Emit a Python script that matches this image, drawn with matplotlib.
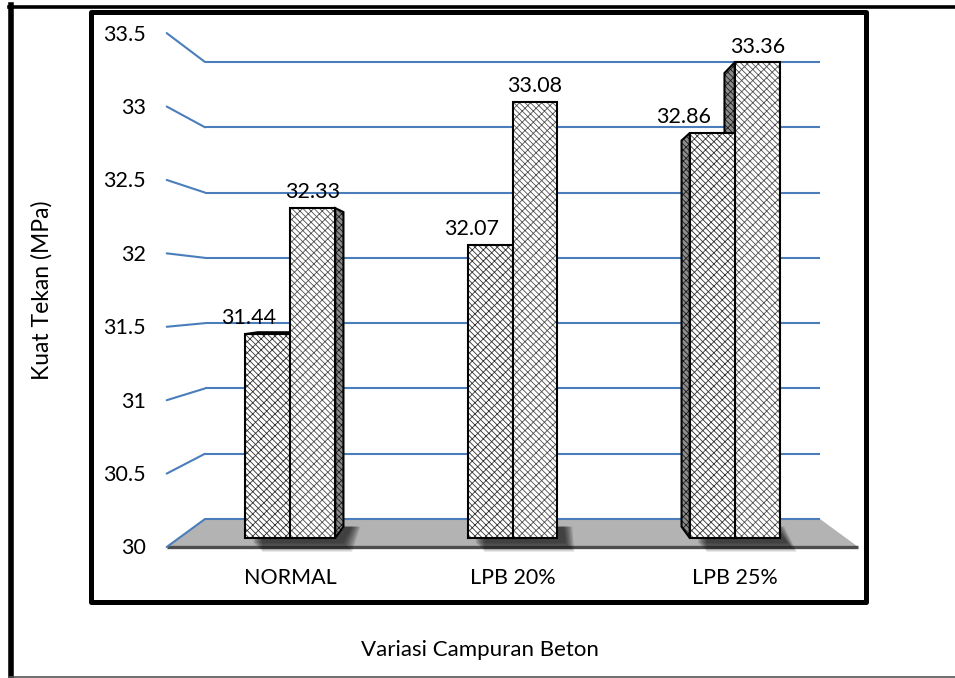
import numpy as np
import matplotlib
matplotlib.use("Agg")
import matplotlib.pyplot as plt
from matplotlib.patches import Polygon, Rectangle
from matplotlib.lines import Line2D

# ---- data -------------------------------------------------------------
categories = ["NORMAL", "LPB 20%", "LPB 25%"]
series_a = [31.44, 32.07, 32.86]
series_b = [32.33, 33.08, 33.36]
y_ticks = [30, 30.5, 31, 31.5, 32, 32.5, 33, 33.5]
y_tick_labels = ["30", "30.5", "31", "31.5", "32", "32.5", "33", "33.5"]
x_title = "Variasi Campuran Beton"
y_title = "Kuat Tekan (MPa)"

# ---- style ------------------------------------------------------------
plt.rcParams['font.family'] = ['Lato', 'DejaVu Sans']
plt.rcParams['hatch.linewidth'] = 0.6
FS = 15.5
FS_XTITLE = 16
FS_YTITLE = 16.5
GRID_C = '#4a7ebb'
FLOOR_C = '#b3b3b3'
FLOOR_EDGE_C = '#4d4d4d'

W, H = 955, 678
fig = plt.figure(figsize=(W / 100, H / 100), dpi=100)
ax = fig.add_axes([0, 0, 1, 1])
ax.set_axis_off()

# Data space of the back wall: x = category slots, y = MPa
ymin, ymax = y_ticks[0], y_ticks[-1]
n = len(categories)
px_per_x = 205.0
px_per_y = 130.57
wall_left_px, wall_base_px = 205.0, 519.0
ax.set_xlim(-wall_left_px / px_per_x, (W - wall_left_px) / px_per_x)
ax.set_ylim(ymin - (H - wall_base_px) / px_per_y, ymin + wall_base_px / px_per_y)

# simple perspective: depth is expressed as a scale about the eye point
eye_x = n / 2.0
eye_y = ymin + (wall_base_px - 294.0) / px_per_y
S_WALL, S_BAR_BACK, S_BAR_FRONT, S_FLOOR_FRONT = 1.0, 1.034, 1.084, 1.1245


def proj(x, y, s):
    return eye_x + (x - eye_x) * s, eye_y + (y - eye_y) * s


def poly(pts, **kw):
    p = Polygon(pts, closed=True, **kw)
    ax.add_patch(p)
    return p


# ---- floor ------------------------------------------------------------
floor = [proj(0, ymin, S_WALL), proj(n, ymin, S_WALL),
         proj(n, ymin, S_FLOOR_FRONT), proj(0, ymin, S_FLOOR_FRONT)]
poly(floor, facecolor=FLOOR_C, edgecolor='none', zorder=1)
fl, fr = proj(0, ymin, S_FLOOR_FRONT), proj(n, ymin, S_FLOOR_FRONT)
ax.plot([fl[0], fr[0]], [fl[1], fr[1]], color=FLOOR_EDGE_C, lw=2.4,
        solid_capstyle='butt', zorder=2)

# ---- gridlines on back wall and left wall, tick labels ------------------
for v, lab in zip(y_ticks, y_tick_labels):
    ax.plot([0, n], [v, v], color=GRID_C, lw=1.5, zorder=2,
            solid_capstyle='butt')
    fx, fy = proj(0, v, S_FLOOR_FRONT)
    ax.plot([fx, 0], [fy, v], color=GRID_C, lw=1.5, zorder=2,
            solid_capstyle='round')
    ax.annotate(lab, (fx, fy), xytext=(-15, -1), textcoords='offset points',
                ha='right', va='center', fontsize=FS, color='black')

# ---- bars ---------------------------------------------------------------
pair_w = 0.405
half = pair_w / 2.0
FACE_HATCH = '\\\\\\\\\\\\///'
z = 5


def draw_bar(x0, x1, v, hatch_c):
    global z
    bot, top = ymin, v
    faces = []
    if x1 < eye_x:
        faces.append(('side', [proj(x1, bot, S_BAR_FRONT), proj(x1, top, S_BAR_FRONT),
                               proj(x1, top, S_BAR_BACK), proj(x1, bot, S_BAR_BACK)]))
    if x0 > eye_x:
        faces.append(('side', [proj(x0, bot, S_BAR_FRONT), proj(x0, top, S_BAR_FRONT),
                               proj(x0, top, S_BAR_BACK), proj(x0, bot, S_BAR_BACK)]))
    if top < eye_y:
        faces.append(('top', [proj(x0, top, S_BAR_FRONT), proj(x1, top, S_BAR_FRONT),
                              proj(x1, top, S_BAR_BACK), proj(x0, top, S_BAR_BACK)]))
    faces.append(('front', [proj(x0, bot, S_BAR_FRONT), proj(x1, bot, S_BAR_FRONT),
                            proj(x1, top, S_BAR_FRONT), proj(x0, top, S_BAR_FRONT)]))
    for kind, pts in faces:
        if kind == 'front':
            fc, hc = 'white', hatch_c
        else:
            fc, hc = '#8c8c8c', '#1a1a1a'
        poly(pts, facecolor=fc, edgecolor=hc, lw=0, hatch=FACE_HATCH, zorder=z)
        poly(pts, facecolor='none', edgecolor='black', lw=1.5, zorder=z + 0.5,
             joinstyle='miter')
        z += 1


def draw_shadow(c):
    # soft shadow cast on the floor at the base of a bar pair
    x_r = c + half
    x_l = c - half
    bl = proj(x_l, ymin, S_BAR_FRONT)
    br = proj(x_r, ymin, S_BAR_FRONT)
    tr = proj(x_r, ymin, S_BAR_BACK)
    dx, dy = 7 / px_per_x, -4 / px_per_y
    for k in range(7, 0, -1):
        ex, ey = k * 1.4 / px_per_x, k * 1.4 / px_per_y
        pts = [(bl[0] + dx + ex, tr[1]),
               (tr[0] + dx + ex, tr[1]),
               (br[0] + dx + ex, br[1] + dy - ey),
               (bl[0] + dx + ex, br[1] + dy - ey)]
        poly(pts, facecolor='black', edgecolor='none', alpha=0.13, zorder=3)


for i, (va, vb) in enumerate(zip(series_a, series_b)):
    c = i + 0.5
    draw_shadow(c)
    bars = [(c - half, c, va, '#333333'), (c, c + half, vb, '#505050')]
    if c > eye_x:
        bars = bars[::-1]
    for b in bars:
        draw_bar(*b)

    # value labels
    top_b = proj(c + half / 2, vb, S_BAR_FRONT)
    ax.annotate(f"{vb:.2f}", top_b, xytext=(0, 7), textcoords='offset points',
                ha='center', va='baseline', fontsize=FS, zorder=50)
    top_a = proj(c - half / 2, va, S_BAR_FRONT)
    obstacle_x = proj(c, va, S_BAR_BACK if c > eye_x else S_BAR_FRONT)[0]
    ax.annotate(f"{va:.2f}", (obstacle_x, top_a[1]), xytext=(-10, 7),
                textcoords='offset points', ha='right', va='baseline',
                fontsize=FS, zorder=50)

    # category label
    cx = proj(c, ymin, S_BAR_FRONT)[0]
    cy = proj(c, ymin, S_FLOOR_FRONT)[1]
    ax.annotate(categories[i], (cx, cy), xytext=(0, -22),
                textcoords='offset points', ha='center', va='center',
                fontsize=FS)

# ---- titles ---------------------------------------------------------------
fig.text(480 / W, 1 - 650 / H, x_title, ha='center', va='center',
         fontsize=FS_XTITLE)
fig.text(42 / W, 1 - 290 / H, y_title, ha='center', va='center',
         rotation=90, fontsize=FS_YTITLE)

# ---- frames ---------------------------------------------------------------
fig.add_artist(Rectangle((90.5 / W, 1 - 602 / H), (865.5 - 90.5) / W,
                         (602 - 12) / H, transform=fig.transFigure,
                         facecolor='none', edgecolor='black', lw=3.6,
                         joinstyle='round'))
fig.add_artist(Line2D([9 / W, 1], [1 - 6.5 / H, 1 - 6.5 / H],
                      transform=fig.transFigure, color='black', lw=2.6))
fig.add_artist(Line2D([11 / W, 11 / W], [1 - 5 / H, 0],
                      transform=fig.transFigure, color='black', lw=4.0))
fig.add_artist(Line2D([9 / W, 1], [1 - 677 / H, 1 - 677 / H],
                      transform=fig.transFigure, color='#555555', lw=1.2))

fig.savefig("out.png", dpi=100)
